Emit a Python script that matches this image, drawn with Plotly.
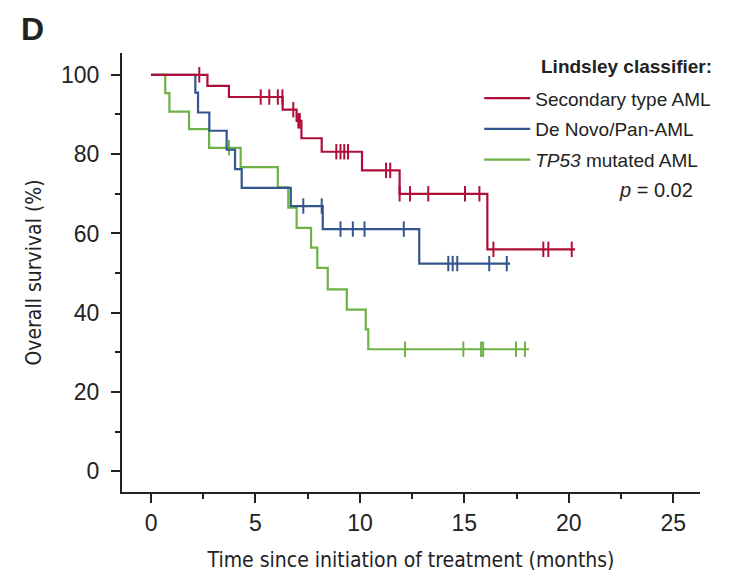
import numpy as np
import plotly.graph_objects as go

# ---- data ----
red_t = [0, 2.7, 3.73, 6.3, 6.97, 7.2, 8.17, 10.1, 11.9, 16.1, 20.3]
red_s = [100, 97.2, 94.4, 91.2, 88.4, 84.0, 80.6, 75.9, 70.0, 56.0, 56.0]
red_c = [2.31, 5.25, 5.66, 6.07, 6.29, 6.81, 7.05, 7.12, 8.87, 9.07, 9.25, 9.43,
         11.25, 11.45, 11.9, 12.4, 13.27, 15.03, 15.72, 16.39, 18.78, 19.02, 20.14]

blue_t = [0, 2.12, 2.25, 2.79, 3.62, 4.02, 4.34, 6.69, 8.22, 12.84, 17.19]
blue_s = [100, 95.5, 90.5, 85.9, 81.1, 76.2, 71.5, 66.9, 61.1, 52.4, 52.4]
blue_c = [7.29, 8.17, 9.07, 9.66, 10.22, 12.1, 14.23, 14.44, 14.66, 16.19, 17.03]

green_t = [0, 0.68, 0.88, 1.82, 2.78, 4.29, 6.07, 6.57, 6.97, 7.66, 7.96, 8.46,
           9.37, 10.28, 10.4, 18.1]
green_s = [100, 95.4, 90.7, 86.3, 81.6, 76.7, 71.6, 66.5, 61.4, 56.4, 51.3, 45.9,
           40.8, 35.8, 30.8, 30.8]
green_c = [3.73, 12.16, 14.95, 15.8, 15.9, 17.47, 17.9]

names = ["Secondary type AML", "De Novo/Pan-AML", "<i>TP53</i> mutated AML"]
colors = ["#AE0E38", "#34568F", "#6DB246"]

x_ticks = [0, 5, 10, 15, 20, 25]
y_ticks = [0, 20, 40, 60, 80, 100]

groups = [(red_t, red_s, red_c), (blue_t, blue_s, blue_c), (green_t, green_s, green_c)]


def surv_at(t_arr, s_arr, c):
    idx = np.searchsorted(np.array(t_arr), c, side="right") - 1
    return [s_arr[i] for i in idx]


fig = go.Figure()
# draw green, blue, then red on top; legend order via legendrank
for gi in [2, 1, 0]:
    t, s, c = groups[gi]
    fig.add_trace(go.Scatter(
        x=t, y=s, mode="lines", line=dict(color=colors[gi], width=2.2, shape="hv"),
        name=names[gi], legendgroup=f"g{gi}", legendrank=gi + 1, hoverinfo="skip"))
    fig.add_trace(go.Scatter(
        x=c, y=surv_at(t, s, np.array(c)), mode="markers",
        marker=dict(symbol="line-ns", size=11, line=dict(color=colors[gi], width=2)),
        legendgroup=f"g{gi}", legendrank=gi + 1, showlegend=False, hoverinfo="skip"))

axis_font = dict(family="Liberation Sans, Arial, sans-serif", size=23, color="#222")
title_font = dict(family="Liberation Sans Narrow, DejaVu Sans Condensed, Arial Narrow, sans-serif",
                  size=21, color="#222")

fig.update_layout(
    width=744, height=584,
    margin=dict(l=122, r=44, t=53, b=92),
    plot_bgcolor="white", paper_bgcolor="white",
    xaxis=dict(range=[-1.39, 26.28], tickvals=x_ticks, ticks="outside", ticklen=9,
               tickwidth=2, tickcolor="#222", showline=True, linewidth=2.2, linecolor="#222",
               showgrid=False, zeroline=False, tickfont=axis_font,
               minor=dict(dtick=2.5, tick0=0, ticks="outside", ticklen=5, tickwidth=2,
                          tickcolor="#222", showgrid=False),
               title=dict(text="Time since initiation of treatment (months)", font=title_font,
                          standoff=18)),
    yaxis=dict(range=[-5.2, 105.5], tickvals=y_ticks, ticks="outside", ticklen=9,
               tickwidth=2, tickcolor="#222", showline=True, linewidth=2.2, linecolor="#222",
               showgrid=False, zeroline=False, tickfont=axis_font, ticklabelstandoff=7,
               minor=dict(dtick=10, tick0=0, ticks="outside", ticklen=5, tickwidth=2,
                          tickcolor="#222", showgrid=False),
               title=dict(text="Overall survival (%)", font=title_font, standoff=14)),
    legend=dict(x=0.618, y=0.940, xanchor="left", yanchor="top", bgcolor="rgba(0,0,0,0)",
                font=dict(family="Liberation Sans, Arial, sans-serif", size=19, color="#222"),
                itemwidth=46, tracegroupgap=3, traceorder="grouped"),
    showlegend=True,
    annotations=[
        dict(text="<b>D</b>", x=-0.154, y=1.055, xref="paper", yref="paper",
             showarrow=False, xanchor="center", yanchor="middle",
             font=dict(family="Liberation Sans, Arial, sans-serif", size=32, color="#222")),
        dict(text="<b>Lindsley classifier:</b>", x=0.721, y=0.970, xref="paper", yref="paper",
             showarrow=False, xanchor="left", yanchor="middle",
             font=dict(family="Liberation Sans, Arial, sans-serif", size=19, color="#222")),
        dict(text="<i>p</i> = 0.02", x=0.991, y=0.688, xref="paper", yref="paper",
             showarrow=False, xanchor="right", yanchor="middle",
             font=dict(family="Liberation Sans, Arial, sans-serif", size=20, color="#222")),
    ],
)

fig.write_html("out.html")
